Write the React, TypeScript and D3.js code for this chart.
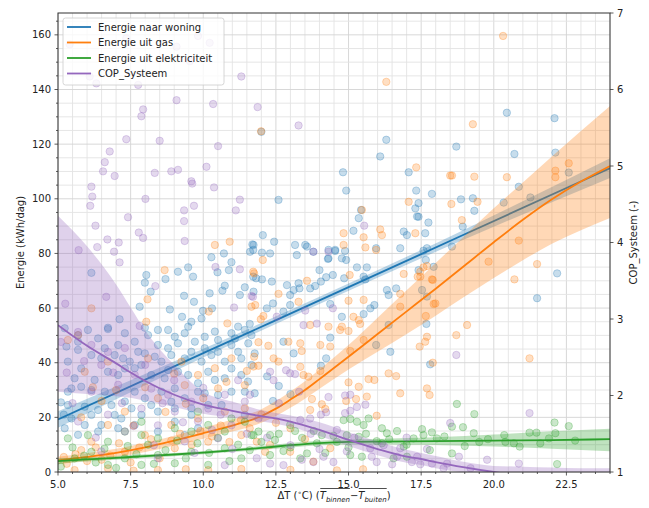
import React, { useEffect, useRef } from 'react';
import * as d3 from 'd3';

// scatter: [deltaT, value]
const woningPts: [number, number][] = [
  [6.15,72.9],[6.72,52.8],[7.12,55.9],[8.04,72.1],[7.99,69.3],[8.70,70.6],[8.19,66.0],[7.81,60.5],[8.85,59.5],[9.34,64.5],
  [10.22,65.4],[9.68,62.3],[10.28,78.6],[10.97,76.8],[10.71,80.0],[10.49,73.1],[10.88,73.9],[10.74,68.2],[10.66,66.4],[11.26,64.8],
  [11.43,67.6],[11.72,71.5],[11.72,81.3],[11.69,83.3],[9.99,59.0],[10.30,59.9],[9.27,56.8],[9.59,55.0],[9.94,56.2],[11.20,53.2],
  [11.60,54.2],[9.65,71.5],[9.13,73.3],[9.48,74.9],[12.0,124.5],[16.30,121.6],[16.09,115.5],[14.81,109.7],[17.07,109.7],
  [20.45,131.5],[22.09,129.5],[18.71,119.1],[20.71,116.4],[22.12,116.9],[22.58,109.6],[14.92,103.0],[17.33,103.0],[17.87,101.8],
  [17.41,98.4],[18.87,99.8],[19.28,100.2],[19.33,95.6],[20.34,98.6],[20.86,104.4],[21.26,100.5],[17.30,96.5],[17.41,93.4],
  [15.43,95.9],[15.35,92.9],[15.17,88.3],[16.90,88.0],[17.01,86.7],[17.64,87.4],[18.93,89.8],[18.56,82.5],[16.78,81.9],
  [17.70,81.9],[15.95,81.9],[13.57,82.5],[13.79,80.6],[14.31,81.3],[14.54,81.3],[14.77,78.2],[14.31,78.2],[22.18,72.7],
  [21.49,63.6],[17.68,54.2],[17.70,64.2],[17.53,66.6],[17.93,75.1],[12.59,99.6],[17.36,93.5],[17.75,91.3],[12.05,86.7],
  [12.44,84.3],[13.16,83.1],[13.51,83.1],[11.73,83.1],[11.61,80.6],[12.02,80.3],[12.30,80.0],[13.22,79.4],[14.54,80.9],
  [14.88,80.9],[14.29,78.0],[14.92,77.6],[17.58,81.0],[17.66,77.6],[14.0,73.9],[15.29,74.9],[15.63,74.9],[14.46,72.1],
  [14.23,71.3],[14.85,70.9],[15.52,71.5],[15.58,70.5],[11.82,70.9],[12.02,70.5],[12.36,69.7],[12.88,68.4],[13.28,69.1],
  [13.31,67.2],[13.68,67.2],[13.85,68.1],[14.05,69.7],[11.73,66.0],[12.99,64.8],[13.11,66.6],[12.19,59.9],[12.40,61.7],
  [12.99,61.1],[14.37,61.5],[15.52,57.8],[15.75,59.9],[15.89,61.1],[14.77,56.8],[12.76,58.7],[16.32,66.6],[16.38,64.8],
  [16.64,67.2],[17.41,73.9],[16.38,53.8],[17.81,39.4],[12.76,47.7],[13.11,43.4],[14.37,49.2],[14.23,41.6],[14.05,38.9],
  [15.95,46.5],[16.44,44.0],[6.72,52.3],[7.99,52.8],[8.79,52.0],[9.48,53.2],[10.40,51.4],[10.97,50.8],[11.43,52.0],
  [5.29,45.9],[5.69,44.7],[6.15,42.8],[6.49,41.6],[5.69,47.7],[7.07,46.5],[7.24,41.6],[7.47,40.4],[7.76,44.0],[8.44,46.5],
  [8.79,45.3],[9.13,47.1],[9.71,47.7],[10.05,45.3],[10.51,44.0],[10.97,46.5],[11.55,47.1],[10.74,40.4],[11.31,41.6],
  [11.66,39.2],[9.94,40.4],[9.36,41.6],[8.56,40.4],[5.46,30.6],[5.80,31.2],[6.15,30.0],[5.34,29.4],[5.92,23.9],[6.38,22.7],
  [6.84,24.5],[5.46,19.6],[5.92,17.2],[6.49,17.2],[7.18,19.6],[7.87,20.9],[8.44,22.1],[7.07,35.5],[6.72,36.7],[7.64,38.0],
  [8.21,35.5],[8.79,37.3],[9.48,35.5],[10.17,36.7],[10.74,34.3],[11.31,35.5],[7.64,29.4],[9.02,30.6],[9.82,29.4],
  [10.51,28.2],[11.43,29.4],[9.02,23.3],[9.59,20.9],[10.17,24.5],[8.44,14.8],[9.36,13.5],[5.1,25.5],[5.2,21.0],
  [12.2,35.0],[12.6,31.5],[13.0,28.5],[12.4,26.0],
  [5.23,52.6],[5.69,50.1],[6.03,52.0],[6.38,48.9],[7.30,50.8],[7.64,47.7],[8.10,50.1],[8.44,52.0],[9.02,49.5],[9.36,50.8],
  [10.05,49.5],[10.51,48.3],[11.09,48.9],[11.66,50.1],[6.61,45.3],[6.95,42.8],[7.99,43.4],[8.33,42.2],[8.90,42.8],[9.59,44.0],
  [10.28,42.8],[11.20,44.0],[11.77,43.4],[5.34,40.4],[5.80,37.9],[6.26,33.7],[7.30,37.9],[7.87,39.2],[8.67,34.3],[9.13,36.7],
  [9.82,32.5],[10.40,33.7],[10.97,37.9],[11.54,33.1],[5.57,34.3],[6.61,29.4],[7.30,25.8],[7.99,27.0],[8.56,29.4],[9.36,27.0],
  [10.05,28.8],[10.97,29.4],[11.77,28.8],[5.34,24.5],[6.15,20.9],[6.95,20.9],[7.53,23.3],[8.21,24.5],[8.90,25.7],[9.59,23.3],
  [10.63,24.5],[11.43,20.9],[5.23,16.0],[5.69,13.6],[6.38,14.8],[7.07,16.0],[7.64,17.2],[9.02,18.4],[9.82,16.0],
];

const gasPts: [number, number][] = [
  [6.15,59.9],[8.67,73.9],[8.08,63.2],[10.91,84.3],[10.40,83.1],[11.72,73.3],[10.19,58.7],[10.83,54.4],[11.66,60.5],[8.04,55.0],
  [11.99,124.7],[16.30,142.8],[17.33,111.5],[18.50,108.5],[20.32,159.6],[19.28,127.3],[22.58,113.0],[22.12,110.3],[22.12,107.9],
  [18.56,108.5],[19.33,108.1],[20.45,107.9],[17.07,98.9],[18.54,98.1],[19.44,98.9],[14.83,87.4],[16.09,88.8],[16.15,86.7],
  [17.30,87.4],[18.90,92.2],[14.83,83.1],[15.58,82.2],[20.86,84.7],[21.49,76.1],[19.82,77.0],[20.71,70.5],[19.08,53.8],
  [18.71,50.1],[21.23,41.6],[17.90,40.0],[17.70,30.6],[17.79,28.2],[16.78,28.8],[16.64,35.1],[16.38,36.1],[17.70,49.5],
  [17.64,47.7],[17.45,45.9],[17.99,61.7],[17.38,71.5],[17.90,70.3],[17.47,73.3],[15.46,95.9],[15.52,85.9],[15.95,81.3],
  [12.05,77.6],[15.04,72.1],[11.75,72.7],[13.57,70.0],[12.59,65.2],[11.79,61.1],[13.28,62.3],[15.0,62.7],[15.52,63.0],
  [15.17,56.8],[15.35,55.6],[15.40,54.2],[14.31,53.2],[14.77,53.2],[13.68,53.8],[12.07,57.1],[11.98,55.9],[16.90,72.5],
  [17.58,74.9],[17.70,75.4],[17.47,71.5],[17.87,70.5],[16.78,60.5],[16.78,65.2],[17.93,61.5],[17.66,57.1],
  [11.73,38.6],[11.90,38.9],[11.75,42.2],[12.42,41.6],[12.59,40.4],[11.90,47.5],[12.24,46.2],[12.93,47.7],[13.34,47.1],
  [13.39,44.3],[14.03,46.5],[14.37,45.9],[14.71,52.0],[15.0,51.6],[15.06,44.3],[15.52,48.3],[15.69,34.0],[15.89,33.7],
  [15.0,32.8],[15.35,31.2],[13.34,38.5],[13.45,35.5],[13.62,34.9],[13.74,26.7],[13.68,22.7],[14.08,24.8],[14.20,23.1],
  [14.92,26.0],[15.26,26.7],[15.63,27.6],[15.97,20.6],[14.03,37.0],[12.13,7.4],[12.30,9.9],[12.99,7.4],[13.79,3.8],
  [14.37,8.7],[11.84,11.1],[5.34,48.3],[6.72,40.4],[8.10,41.6],[9.25,40.4],[9.82,35.5],[10.40,38.0],[10.97,41.6],
  [11.43,31.8],[10.51,30.6],[9.36,31.8],[8.44,27.0],[7.30,22.1],[6.72,17.2],[7.99,13.5],[8.90,17.2],[9.82,19.6],
  [10.74,22.1],[11.43,23.3],[6.15,11.1],[7.30,7.4],[9.02,8.7],[10.17,11.1],[11.31,13.5],[5.92,36.7],[5.69,50.1],
  [5.57,0.7],[6.72,1.3],[8.44,0.7],[10.17,0.7],[11.31,1.1],[13.0,0.8],[14.6,0.6],[15.5,1.0],[7.6,0.5],[9.4,1.0],
  [5.2,5.5],[5.8,8.0],[6.5,4.5],
  [5.3,3.0],[5.6,6.5],[6.0,4.0],[6.3,9.0],[6.8,6.0],[7.1,10.5],[7.5,3.5],[7.8,9.0],[8.2,12.0],[8.5,5.0],[8.9,11.5],
  [9.2,14.0],[9.6,10.0],[9.9,15.0],[10.3,13.0],[10.6,17.0],[10.9,11.0],[11.3,19.0],[11.6,16.0],[12.0,21.0],[6.5,26.0],
  [7.0,30.0],[7.6,17.0],[8.0,31.0],[8.7,22.0],[9.4,25.0],[10.0,27.0],[10.8,33.0],[11.5,37.0],[5.8,20.0],[6.2,31.0],
  [9.0,36.0],[12.5,18.0],[13.0,16.0],[13.5,12.0],
];

const elekPts: [number, number][] = [
  [18.73,24.9],[19.33,21.2],[22.09,18.1],[22.58,16.8],[18.56,16.6],[18.94,16.4],[20.36,13.5],[21.23,14.4],[21.47,14.4],
  [22.12,14.2],[20.89,9.3],[20.69,10.5],[18.56,6.8],[19.31,14.2],[22.18,2.9],[14.83,19.0],[15.06,19.4],[15.29,18.4],
  [15.69,19.6],[16.15,16.0],[16.32,14.2],[16.67,15.0],[17.53,15.7],[17.87,14.5],[17.58,13.5],[15.35,12.9],[15.97,11.3],
  [16.15,10.5],[15.52,17.2],[14.94,13.5],[14.48,13.3],[18.04,12.3],[16.90,9.3],[17.24,12.3],[12.99,17.2],[13.16,15.0],
  [12.30,13.5],[12.47,11.7],[11.90,14.8],[11.73,13.5],[14.08,13.5],[13.91,10.5],[13.57,6.8],[13.34,5.0],[15.06,6.2],
  [15.46,5.6],[16.55,5.0],[17.01,5.6],[12.76,7.7],[12.30,6.2],[5.34,12.3],[6.03,13.5],[6.72,11.1],[7.30,14.8],[7.87,13.5],
  [8.44,12.3],[9.02,16.0],[9.59,14.8],[10.17,17.2],[10.74,14.8],[11.43,18.4],[11.66,13.5],[6.15,7.4],[7.30,5.0],[8.44,6.2],
  [9.59,7.4],[10.74,8.7],[11.31,5.0],[5.57,5.0],[6.72,2.6],[7.87,2.6],[9.02,3.2],[10.17,2.6],[7.87,18.4],[9.82,22.1],
  [10.97,19.6],[19.5,11.0],[21.9,12.3],
  [5.1,2.0],[5.5,9.0],[5.9,6.0],[6.3,3.5],[6.6,8.5],[7.0,1.5],[7.4,9.5],[7.7,6.5],[8.1,10.0],[8.3,3.0],[8.7,8.0],
  [9.1,11.5],[9.4,5.0],[9.8,10.5],[10.2,7.0],[10.5,12.5],[10.9,4.0],[11.2,10.0],[11.6,8.0],[12.0,11.0],[12.6,14.0],
  [13.0,9.0],[13.4,12.5],[13.8,15.0],[14.2,7.0],[14.6,11.0],[15.0,9.0],[15.6,14.0],[16.4,12.0],[17.0,10.0],[17.8,8.0],
  [18.3,13.0],[19.0,9.5],[19.8,12.0],[20.4,11.0],[21.6,10.5],[22.8,11.5],
];

// COP on right axis
const copPts: [number, number][] = [
  [5.40,6.59],[7.35,6.67],[9.82,6.70],[10.22,6.61],[9.08,6.56],[9.54,6.37],[6.09,6.17],[6.32,6.08],[7.76,6.06],[11.31,6.17],
  [9.08,5.86],[10.34,5.81],[7.93,5.74],[7.87,5.65],[7.35,5.35],[8.50,5.33],[10.51,5.26],[6.78,5.19],[6.61,5.05],[6.55,4.93],
  [6.95,4.87],[8.33,4.91],[8.90,4.93],[9.13,4.95],[10.11,4.99],[9.59,4.80],[11.87,5.77],[13.28,5.53],[6.15,4.73],[6.18,4.60],
  [6.11,4.48],[8.01,4.57],[9.62,4.77],[10.37,4.72],[9.34,4.42],[9.68,4.48],[11.26,4.56],[11.12,4.42],[9.34,4.28],[7.41,4.33],
  [6.29,4.22],[7.78,4.13],[7.93,4.06],[6.70,4.04],[7.09,4.0],[6.35,3.94],[5.71,3.90],[6.93,3.88],[7.12,3.74],[9.36,4.02],
  [10.42,3.68],[11.26,3.65],[8.35,3.43],[6.66,3.29],[11.06,3.15],[11.66,3.30],[7.81,2.91],[18.71,2.53],[21.23,1.77],
  [19.77,1.16],[20.86,1.11],[18.39,1.11],[15.54,4.22],[13.79,3.88],[14.31,3.88],[11.71,3.29],[13.51,3.11],[14.46,3.14],
  [13.91,2.94],[13.45,2.92],[12.53,3.03],[13.16,2.28],[12.85,2.33],[12.99,2.29],[12.30,2.31],[12.42,2.20],[11.61,2.01],
  [14.31,1.98],[14.05,1.75],[14.23,1.78],[14.88,2.0],[15.06,2.01],[15.29,1.85],[15.58,1.88],[14.88,1.77],[15.06,1.80],
  [13.34,1.68],[13.68,1.70],[14.94,1.27],[15.75,1.31],[16.21,1.35],[16.67,1.20],[17.18,1.13],[17.47,1.10],[17.87,1.11],
  [18.27,1.05],[14.14,1.20],[13.79,1.13],[13.39,1.16],[14.48,1.13],[15.97,1.13],[11.84,1.18],[12.30,1.11],[12.76,1.09],
  [16.78,1.31],[17.36,1.20],[5.69,2.83],[6.15,2.66],[6.72,2.57],[7.30,2.62],[6.49,2.40],[7.64,2.27],[7.07,2.14],[6.15,2.05],
  [8.21,2.09],[8.79,2.01],[9.59,1.92],[10.17,1.83],[10.74,2.01],[11.43,1.92],[9.02,1.79],[7.87,1.83],[6.72,1.75],[5.69,1.66],
  [9.82,1.66],[10.97,1.61],[8.44,1.61],[7.30,1.53],[9.36,1.40],[10.51,1.44],[6.49,1.27],[8.44,1.18],[10.74,1.09],
  [5.25,3.2],[5.1,2.7],[18.5,1.64],
  [5.3,2.3],[5.5,1.9],[5.9,2.45],[6.3,1.45],[6.9,2.3],[7.2,1.9],[7.6,1.6],[8.0,2.4],[8.3,1.35],[8.6,1.9],[9.0,2.2],
  [9.3,1.65],[9.7,1.25],[10.0,2.1],[10.3,1.55],[10.6,1.75],[11.0,1.3],[11.2,2.2],[11.5,1.5],[11.9,1.7],[12.2,1.45],
  [12.6,1.9],[13.0,1.35],[13.3,2.05],[13.7,1.5],[14.0,1.3],[14.6,1.55],[15.2,1.45],[15.8,1.2],[16.5,1.1],[17.0,1.45],
  [17.7,1.3],[18.8,1.2],[19.2,1.05],
];

// fitted curves with confidence band
const woningFitT = [5, 10, 14, 19, 24];
const woningFit = [19.2, 43.5, 62.8, 87, 111.2];
const woningLo = [16.2, 41.9, 61.5, 85.2, 107.6];
const woningHi = [22.2, 45.1, 64.1, 88.8, 114.8];

const gasFitT = [5, 6, 7, 8, 9, 10, 11, 11.5, 12, 12.5, 13, 13.5, 14, 15, 16, 17, 18, 19, 20, 21, 22, 23, 24];
const gasFit = [4.2, 5.5, 7, 9, 11.5, 14.2, 17, 18.5, 20.5, 23.2, 26.5, 30, 34, 42.2, 50.5, 58.8, 67.1, 75.6, 84.1, 92.3, 99.8, 106.3, 112];
const gasLo = [2.8, 4.1, 5.5, 7.3, 9.7, 12.2, 14.8, 16.2, 18, 20.5, 23.5, 26.8, 30.5, 37.5, 44, 50.5, 57.2, 64.2, 71, 77.5, 83.5, 88.5, 93];
const gasHi = [5.6, 6.9, 8.5, 10.7, 13.3, 16.2, 19.2, 20.8, 23, 26, 29.5, 33.2, 37.5, 46.5, 56.5, 66.5, 76.5, 86.5, 96.5, 106, 115.5, 124.8, 134];

const elekFitT = [5, 6, 7, 8, 9, 10, 11, 12, 13, 14, 15, 16, 17, 18, 20, 22, 24];
const elekFit = [4, 4.6, 5.2, 5.8, 6.4, 7.1, 7.9, 8.8, 9.8, 10.6, 11, 11.1, 11.2, 11.3, 11.5, 11.7, 12];
const elekLo = [3, 3.8, 4.5, 5.1, 5.8, 6.5, 7.3, 8.1, 9, 9.8, 10.1, 10.1, 10, 9.9, 9.3, 8.5, 7.6];
const elekHi = [5, 5.4, 5.9, 6.5, 7.0, 7.7, 8.5, 9.5, 10.6, 11.4, 11.9, 12.1, 12.4, 12.7, 13.7, 14.9, 15.8];

const copFitT = [5, 6, 7, 7.5, 8, 9, 10, 11, 12, 12.5, 13, 14, 15, 16, 17, 17.5, 18, 19, 20, 21, 22, 23, 24];
const copFit = [2.92, 2.65, 2.42, 2.3, 2.19, 2.01, 1.88, 1.8, 1.73, 1.7, 1.66, 1.55, 1.42, 1.3, 1.2, 1.17, 1.13, 1.06, 1.0, 0.95, 0.9, 0.86, 0.82];
const copLo = [2.05, 2.02, 1.99, 1.97, 1.93, 1.85, 1.76, 1.71, 1.66, 1.63, 1.59, 1.47, 1.34, 1.22, 1.12, 1.09, 1.05, 0.99, 0.94, 0.9, 0.86, 0.82, 0.78];
const copHi = [4.35, 3.95, 3.45, 3.15, 2.85, 2.4, 2.05, 1.92, 1.81, 1.77, 1.74, 1.65, 1.52, 1.4, 1.29, 1.25, 1.21, 1.13, 1.08, 1.07, 1.06, 1.05, 1.05];

const legendLabels = ['Energie naar woning', 'Energie uit gas', 'Energie uit elektriciteit', 'COP_Systeem'];
const colors = ['#1f77b4', '#ff7f0e', '#2ca02c', '#9467bd'];
const xTicks = [5, 7.5, 10, 12.5, 15, 17.5, 20, 22.5];
const yTicks = [0, 20, 40, 60, 80, 100, 120, 140, 160];
const y2Ticks = [1, 2, 3, 4, 5, 6, 7];

const FONT = 'DejaVu Sans, sans-serif';

const App = () => {
  const svgRef = useRef<SVGSVGElement>(null);

  useEffect(() => {
    const W = 649, H = 508;
    const left = 58, right = 610, top = 13, bottom = 472;

    const svg = d3.select(svgRef.current);
    svg.selectAll('*').remove();
    svg.attr('width', W).attr('height', H);

    const x = d3.scaleLinear().domain([5, 24]).range([left, right]);
    const y = d3.scaleLinear().domain([0, 168]).range([bottom, top]);
    const y2 = d3.scaleLinear().domain([1, 7]).range([bottom, top]);

    svg.append('rect').attr('width', W).attr('height', H).attr('fill', 'white');
    svg.append('defs').append('clipPath').attr('id', 'plotclip')
      .append('rect').attr('x', left).attr('y', top).attr('width', right - left).attr('height', bottom - top);

    // grid (major + minor)
    const grid = svg.append('g');
    const xMinor = d3.range(10, 49).map(d => d / 2);
    const yMinor = d3.range(0, 34).map(d => d * 5);
    grid.selectAll('.gx').data(xMinor).enter().append('line')
      .attr('x1', d => x(d)).attr('x2', d => x(d)).attr('y1', top).attr('y2', bottom)
      .attr('stroke', d => (d % 2.5 === 0 ? '#d4d4d4' : '#e3e3e3')).attr('stroke-width', 0.9);
    grid.selectAll('.gy').data(yMinor).enter().append('line')
      .attr('x1', left).attr('x2', right).attr('y1', d => y(d)).attr('y2', d => y(d))
      .attr('stroke', d => (d % 20 === 0 ? '#d4d4d4' : '#e3e3e3')).attr('stroke-width', 0.9);

    const plot = svg.append('g').attr('clip-path', 'url(#plotclip)');

    const drawSeries = (pts: [number, number][], T: number[], mid: number[], lo: number[], hi: number[], color: string, ys: d3.ScaleLinear<number, number>, bandOpacity: number) => {
      plot.append('g').selectAll('circle').data(pts).enter().append('circle')
        .attr('cx', d => x(d[0])).attr('cy', d => ys(d[1])).attr('r', 3.7)
        .attr('fill', color).attr('fill-opacity', 0.25)
        .attr('stroke', color).attr('stroke-opacity', 0.28).attr('stroke-width', 1);
      const rows = T.map((t, i) => ({ t, m: mid[i], lo: lo[i], hi: hi[i] }));
      const line = d3.line<any>().curve(d3.curveMonotoneX).x(d => x(d.t)).y(d => ys(d.m));
      const area = d3.area<any>().curve(d3.curveMonotoneX).x(d => x(d.t)).y0(d => ys(d.lo)).y1(d => ys(d.hi));
      plot.append('path').datum(rows).attr('d', line).attr('fill', 'none').attr('stroke', color).attr('stroke-width', 1.8);
      plot.append('path').datum(rows).attr('d', area).attr('fill', color).attr('fill-opacity', bandOpacity).attr('stroke', 'none');
    };

    drawSeries(woningPts, woningFitT, woningFit, woningLo, woningHi, colors[0], y, 0.3);
    drawSeries(gasPts, gasFitT, gasFit, gasLo, gasHi, colors[1], y, 0.3);
    drawSeries(elekPts, elekFitT, elekFit, elekLo, elekHi, colors[2], y, 0.3);
    drawSeries(copPts, copFitT, copFit, copLo, copHi, colors[3], y2, 0.3);

    // frame
    svg.append('rect').attr('x', left).attr('y', top).attr('width', right - left).attr('height', bottom - top)
      .attr('fill', 'none').attr('stroke', '#333').attr('stroke-width', 1);

    const ax = svg.append('g').attr('font-family', FONT).attr('font-size', 10).attr('fill', '#222');

    // x ticks
    ax.selectAll('.xm').data(xMinor).enter().append('line')
      .attr('x1', d => x(d)).attr('x2', d => x(d)).attr('y1', bottom).attr('y2', d => bottom + (d % 2.5 === 0 ? 3.5 : 2))
      .attr('stroke', '#333').attr('stroke-width', 0.8);
    ax.selectAll('.xl').data(xTicks).enter().append('text')
      .attr('x', d => x(d)).attr('y', bottom + 15.5).attr('text-anchor', 'middle').text(d => d.toFixed(1));

    // left y ticks
    ax.selectAll('.ym').data(yMinor).enter().append('line')
      .attr('x1', left).attr('x2', d => left - (d % 20 === 0 ? 3.5 : 2)).attr('y1', d => y(d)).attr('y2', d => y(d))
      .attr('stroke', '#333').attr('stroke-width', 0.8);
    ax.selectAll('.yl').data(yTicks).enter().append('text')
      .attr('x', left - 7).attr('y', d => y(d)).attr('dy', '0.35em').attr('text-anchor', 'end').text(d => d);

    // right y ticks
    ax.selectAll('.y2m').data(y2Ticks).enter().append('line')
      .attr('x1', right).attr('x2', right + 3.5).attr('y1', d => y2(d)).attr('y2', d => y2(d))
      .attr('stroke', '#333').attr('stroke-width', 0.8);
    ax.selectAll('.y2l').data(y2Ticks).enter().append('text')
      .attr('x', right + 7).attr('y', d => y2(d)).attr('dy', '0.35em').text(d => d);

    // axis titles
    const midY = (top + bottom) / 2;
    ax.append('text').attr('transform', `translate(20,${midY}) rotate(-90)`).attr('text-anchor', 'middle')
      .attr('dy', '0.35em').text('Energie (kWh/dag)');
    ax.append('text').attr('transform', `translate(633,${midY}) rotate(-90)`).attr('text-anchor', 'middle')
      .attr('dy', '0.35em').text('COP_Systeem (-)');

    // x label with overlines
    const lab = ax.append('g').style('white-space', 'pre');
    let cx = 0;
    const add = (txt: string, size = 10, italic = false, dy = 0) => {
      const t = lab.append('text').attr('x', cx).attr('y', dy).attr('font-size', size)
        .attr('font-style', italic ? 'italic' : null).text(txt);
      const start = cx;
      cx += (t.node() as SVGTextElement).getComputedTextLength();
      return [start, cx];
    };
    add('ΔT (');
    add(' ∘', 7, false, -4);
    add('C) (');
    const a1 = add('T', 10, true);
    const b1 = add('binnen', 7, true, 2.5);
    add(' − ');
    const a2 = add('T', 10, true);
    const b2 = add('buiten', 7, true, 2.5);
    add(')');
    [[a1[0], b1[1]], [a2[0], b2[1]]].forEach(([s, e]) => {
      lab.append('line').attr('x1', s + 0.5).attr('x2', e).attr('y1', -10.5).attr('y2', -10.5)
        .attr('stroke', '#222').attr('stroke-width', 0.8);
    });
    lab.attr('transform', `translate(${(left + right) / 2 - cx / 2},499)`);

    // legend
    const lg = svg.append('g').attr('font-family', FONT).attr('font-size', 10);
    lg.append('rect').attr('x', 63).attr('y', 18).attr('width', 161).attr('height', 67).attr('rx', 2.5)
      .attr('fill', 'white').attr('fill-opacity', 0.8).attr('stroke', '#cccccc').attr('stroke-width', 0.8);
    legendLabels.forEach((l, i) => {
      const yy = 27 + i * 15.5;
      lg.append('line').attr('x1', 67).attr('x2', 91).attr('y1', yy).attr('y2', yy)
        .attr('stroke', colors[i]).attr('stroke-width', 1.8);
      lg.append('text').attr('x', 98).attr('y', yy).attr('dy', '0.35em').attr('fill', '#222').text(l);
    });
  }, []);

  return (
    <svg ref={svgRef} style={{ position: 'absolute', left: 0, top: 0, display: 'block' }} />
  );
};

export default App;
